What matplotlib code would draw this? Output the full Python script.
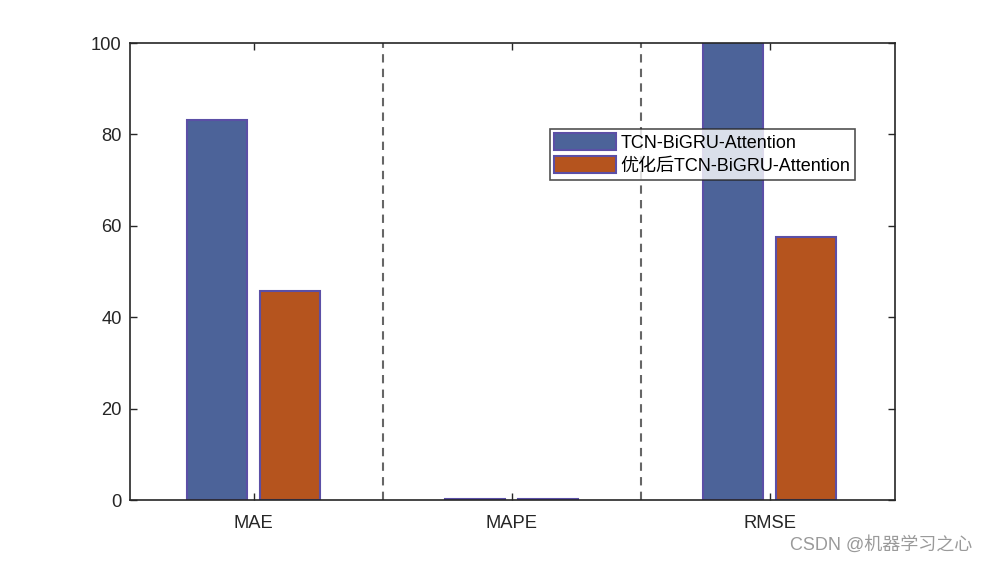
import matplotlib
matplotlib.use("Agg")
import matplotlib.pyplot as plt
import numpy as np

# values
categories = ["MAE", "MAPE", "RMSE"]
base_vals = [83.2, 0.15, 110.0]       # TCN-BiGRU-Attention (RMSE clipped at 100)
opt_vals = [45.7, 0.12, 57.5]         # optimised model
series_names = ["TCN-BiGRU-Attention", "优化后TCN-BiGRU-Attention"]

plt.rcParams["font.family"] = ["Liberation Sans", "Noto Sans CJK SC", "DejaVu Sans"]

fig = plt.figure(figsize=(9.9, 5.63), dpi=100)
ax = fig.add_axes([0.1313, 0.1119, 0.7727, 0.8117])

x = np.arange(1, len(categories) + 1)
w = 0.2326
off = 0.1415
edge = "#5b4fa6"
ax.bar(x - off, base_vals, w, color="#4c6399", edgecolor=edge, lw=1.5,
       label=series_names[0], zorder=2)
ax.bar(x + off, opt_vals, w, color="#b5541e", edgecolor=edge, lw=1.5,
       label=series_names[1], zorder=2)

# dashed separators between groups
for xs in (1.5, 2.5):
    ax.axvline(xs, color="#666666", ls=(0, (4, 3)), lw=1.5, zorder=1)

ax.set_xlim(0.52, 3.485)
ax.set_ylim(0, 100)
ax.set_xticks(x)
ax.set_xticklabels(categories)
ax.set_yticks(np.arange(0, 101, 20))
ax.tick_params(direction="in", top=True, right=True, length=5, width=1,
               labelsize=13.2, colors="#262626", pad=6)
ax.tick_params(axis="x", pad=11)
for s in ax.spines.values():
    s.set_color("#262626")
    s.set_linewidth(1.2)
    s.set_zorder(3)

leg = ax.legend(loc="upper left", bbox_to_anchor=(0.549, 0.812), fontsize=13,
                frameon=True, fancybox=False, edgecolor="#262626",
                handlelength=3.4, handleheight=1.05, handletextpad=0.26,
                borderpad=0.25, labelspacing=0.25, borderaxespad=0)
leg.get_frame().set_linewidth(1.2)

fig.text(0.982, 0.032, "CSDN @机器学习之心", ha="right", va="center",
         fontsize=13, color="#9a9a9a")

fig.savefig("out.png", dpi=100)
